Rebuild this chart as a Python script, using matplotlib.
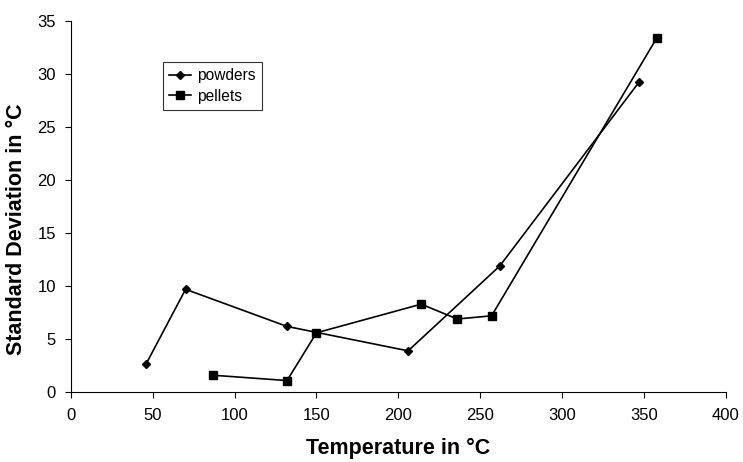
import matplotlib
matplotlib.use("Agg")
import matplotlib.pyplot as plt

plt.rcParams['font.family'] = ['Liberation Sans', 'DejaVu Sans']

# Data
powders_x = [46, 70, 132, 206, 262, 347]
powders_y = [2.7, 9.7, 6.2, 3.9, 11.9, 29.2]

pellets_x = [87, 132, 150, 214, 236, 257, 358]
pellets_y = [1.6, 1.1, 5.6, 8.3, 6.9, 7.2, 33.4]

x_ticks = [0, 50, 100, 150, 200, 250, 300, 350, 400]
y_ticks = [0, 5, 10, 15, 20, 25, 30, 35]

fig = plt.figure(figsize=(7.43, 4.62), dpi=100)
ax = fig.add_axes([0.0956, 0.151, 0.881, 0.804])

ax.plot(powders_x, powders_y, color='black', linewidth=1.2,
        marker='D', markersize=4.5, label='powders')
ax.plot(pellets_x, pellets_y, color='black', linewidth=1.2,
        marker='s', markersize=6, label='pellets')

ax.set_xlim(0, 400)
ax.set_ylim(0, 35)
ax.set_xticks(x_ticks)
ax.set_yticks(y_ticks)
ax.tick_params(direction='out', length=4, width=0.8, labelsize=12, pad=7)

ax.spines['top'].set_visible(False)
ax.spines['right'].set_visible(False)

ax.set_xlabel('Temperature in °C', fontsize=15.5, fontweight='bold', labelpad=11)
ax.set_ylabel('Standard Deviation in °C', fontsize=15.5, fontweight='bold')
# label sits a bit below the axis centre in the original
ax.yaxis.set_label_coords(-0.068, 0.44)

leg = ax.legend(loc='upper left', bbox_to_anchor=(0.14, 0.889), fontsize=11.2,
                frameon=True, fancybox=False, edgecolor='black',
                handlelength=1.4, borderpad=0.4, labelspacing=0.35,
                handletextpad=0.4, borderaxespad=0)
leg.get_frame().set_linewidth(0.8)

fig.savefig('out.png', dpi=100)
